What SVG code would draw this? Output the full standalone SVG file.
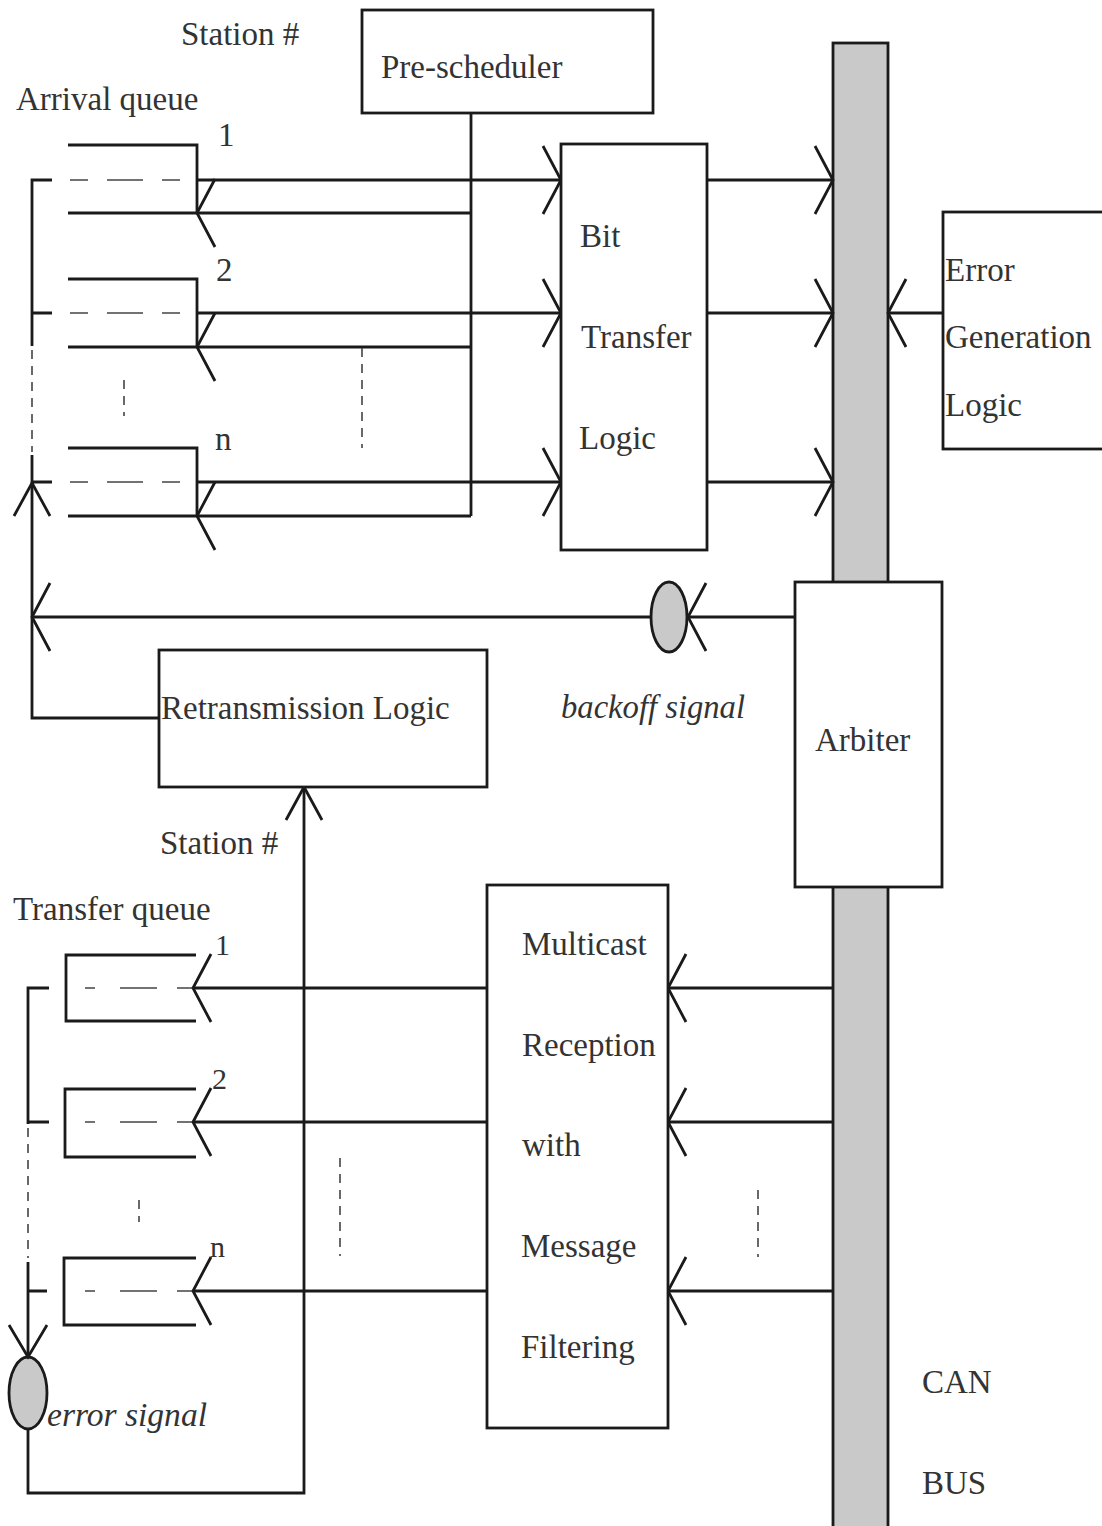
<svg xmlns="http://www.w3.org/2000/svg" xmlns:xlink="http://www.w3.org/1999/xlink" width="1102" height="1526" viewBox="0 0 1102 1526">
<style>
.ln{fill:none;stroke:#1a1a1a;stroke-width:2.8;stroke-linecap:butt}
.box{fill:#fff;stroke:#1a1a1a;stroke-width:2.8}
.dash{fill:none;stroke:#444;stroke-width:1.6}
.dv{fill:none;stroke:#444;stroke-width:1.6;stroke-dasharray:9 7}
.ah{fill:none;stroke:#1a1a1a;stroke-width:2.8}
.sig{fill:#c9c9c9;stroke:#1a1a1a;stroke-width:2.8}
.t{font-family:"Liberation Serif","Times New Roman",serif;font-size:33px;fill:#333}
.ti{font-family:"Liberation Serif","Times New Roman",serif;font-size:33px;font-style:italic;fill:#333}
</style>
<defs>
<path id="ahL" class="ah" d="M18,-34 L0,0 L18,34"/>
<path id="ahR" class="ah" d="M-18,-34 L0,0 L-18,34"/>
<path id="ahU" class="ah" d="M-18,33 L0,0 L18,33"/>
<path id="ahD" class="ah" d="M-19,-32 L0,0 L19,-32"/>
</defs>
<rect width="1102" height="1526" fill="#fff"/>

<!-- CAN bus -->
<g id="bus">
<rect x="833" y="43" width="55" height="1490" fill="#c9c9c9" stroke="#1a1a1a" stroke-width="2.8"/>
<text class="t" x="922" y="1393">CAN</text>
<text class="t" x="922" y="1494">BUS</text>
</g>

<!-- connectors -->
<g id="connectors">
<path class="ln" d="M471,113 V516"/>
<path class="ln" d="M68,145 H197 V213 M68,213 H471 M197,180 H561"/>
<path class="dash" d="M70,180 H88 M107,180 H143 M162,180 H180"/>
<use xlink:href="#ahL" x="197" y="213"/>
<path class="ln" d="M68,279 H197 V347 M68,347 H471 M197,313 H561"/>
<path class="dash" d="M70,313 H88 M107,313 H143 M162,313 H180"/>
<use xlink:href="#ahL" x="197" y="347"/>
<path class="ln" d="M68,448 H197 V516 M68,516 H471 M197,482 H561"/>
<path class="dash" d="M70,482 H88 M107,482 H143 M162,482 H180"/>
<use xlink:href="#ahL" x="197" y="516"/>
<use xlink:href="#ahR" x="561" y="180"/>
<use xlink:href="#ahR" x="561" y="313"/>
<use xlink:href="#ahR" x="561" y="482"/>
<path class="ln" d="M707,180 H833 M707,313 H833 M707,482 H833"/>
<use xlink:href="#ahR" x="833" y="180"/>
<use xlink:href="#ahR" x="833" y="313"/>
<use xlink:href="#ahR" x="833" y="482"/>
<path class="ln" d="M943,313 H888"/>
<use xlink:href="#ahL" x="888" y="313"/>
<path class="ln" d="M52,180 H32 V346 M52,313 H32 M32,455 V718 H159 M52,482 H32"/>
<path class="dv" d="M32,350 V452"/>
<use xlink:href="#ahU" x="32" y="483"/>
<path class="dv" d="M124,380 V416"/>
<path class="dv" d="M362,348 V448"/>
<path class="ln" d="M795,617 H688 M650,617 H32"/>
<use xlink:href="#ahL" x="32" y="617"/>
<ellipse class="sig" cx="669" cy="617" rx="18" ry="35"/>
<use xlink:href="#ahL" x="688" y="617"/>
<path class="ln" d="M304,787 V1493 H28 V1429"/>
<use xlink:href="#ahU" x="304" y="787"/>
<path class="ln" d="M833,988 H668 M833,1122 H668 M833,1291 H668"/>
<use xlink:href="#ahL" x="668" y="988"/>
<use xlink:href="#ahL" x="668" y="1122"/>
<use xlink:href="#ahL" x="668" y="1291"/>
<path class="ln" d="M193,988 H487 M193,1122 H487 M193,1291 H487"/>
<path class="ln" d="M196,955 H66 V1021 H196"/>
<path class="dash" d="M85,988 H95 M120,988 H157 M177,988 H193"/>
<use xlink:href="#ahL" x="193" y="988"/>
<path class="ln" d="M196,1089 H65 V1157 H196"/>
<path class="dash" d="M85,1122 H95 M120,1122 H157 M177,1122 H193"/>
<use xlink:href="#ahL" x="193" y="1122"/>
<path class="ln" d="M196,1258 H64 V1325 H196"/>
<path class="dash" d="M85,1291 H95 M120,1291 H157 M177,1291 H193"/>
<use xlink:href="#ahL" x="193" y="1291"/>
<path class="ln" d="M49,988 H28 V1124 M49,1122 H28 M28,1262 V1357 M47,1291 H28"/>
<path class="dv" d="M28,1128 V1258"/>
<path class="dv" d="M139,1200 V1222"/>
<path class="dv" d="M340,1158 V1256"/>
<path class="dv" d="M758,1190 V1257"/>
<ellipse class="sig" cx="28" cy="1393" rx="19" ry="36"/>
<use xlink:href="#ahD" x="28" y="1357"/>
</g>

<!-- labels -->
<g id="labels">
<text class="t" x="181" y="45">Station #</text>
<text class="t" x="16" y="110">Arrival queue</text>
<text class="t" x="218" y="146">1</text>
<text class="t" x="216" y="281">2</text>
<text class="t" x="215" y="450">n</text>
<text class="ti" x="561" y="718" textLength="184" lengthAdjust="spacingAndGlyphs">backoff signal</text>
<text class="t" x="160" y="854">Station #</text>
<text class="t" x="13" y="920">Transfer queue</text>
<text class="t" x="215" y="955" style="font-size:30px">1</text>
<text class="t" x="212" y="1089" style="font-size:30px">2</text>
<text class="t" x="210" y="1257" style="font-size:30px">n</text>
<text class="ti" x="47" y="1426" textLength="160" lengthAdjust="spacingAndGlyphs">error signal</text>
</g>

<g id="pre-scheduler">
<rect class="box" x="362" y="10" width="291" height="103"/>
<text class="t" x="381" y="78">Pre-scheduler</text>
</g>

<g id="bit-transfer-logic">
<rect class="box" x="561" y="144" width="146" height="406"/>
<text class="t" x="580" y="247">Bit</text>
<text class="t" x="581" y="348">Transfer</text>
<text class="t" x="579" y="449">Logic</text>
</g>

<g id="error-generation-logic">
<rect class="box" x="943" y="212" width="175" height="237"/>
<text class="t" x="945" y="281">Error</text>
<text class="t" x="945" y="348">Generation</text>
<text class="t" x="945" y="416">Logic</text>
</g>

<g id="arbiter">
<rect class="box" x="795" y="582" width="147" height="305"/>
<text class="t" x="815" y="751">Arbiter</text>
</g>

<g id="retransmission-logic">
<rect class="box" x="159" y="650" width="328" height="137"/>
<text class="t" x="161" y="719">Retransmission Logic</text>
</g>

<g id="multicast-reception">
<rect class="box" x="487" y="885" width="181" height="543"/>
<text class="t" x="522" y="955">Multicast</text>
<text class="t" x="522" y="1056">Reception</text>
<text class="t" x="522" y="1156">with</text>
<text class="t" x="521" y="1257">Message</text>
<text class="t" x="521" y="1358">Filtering</text>
</g>
</svg>
